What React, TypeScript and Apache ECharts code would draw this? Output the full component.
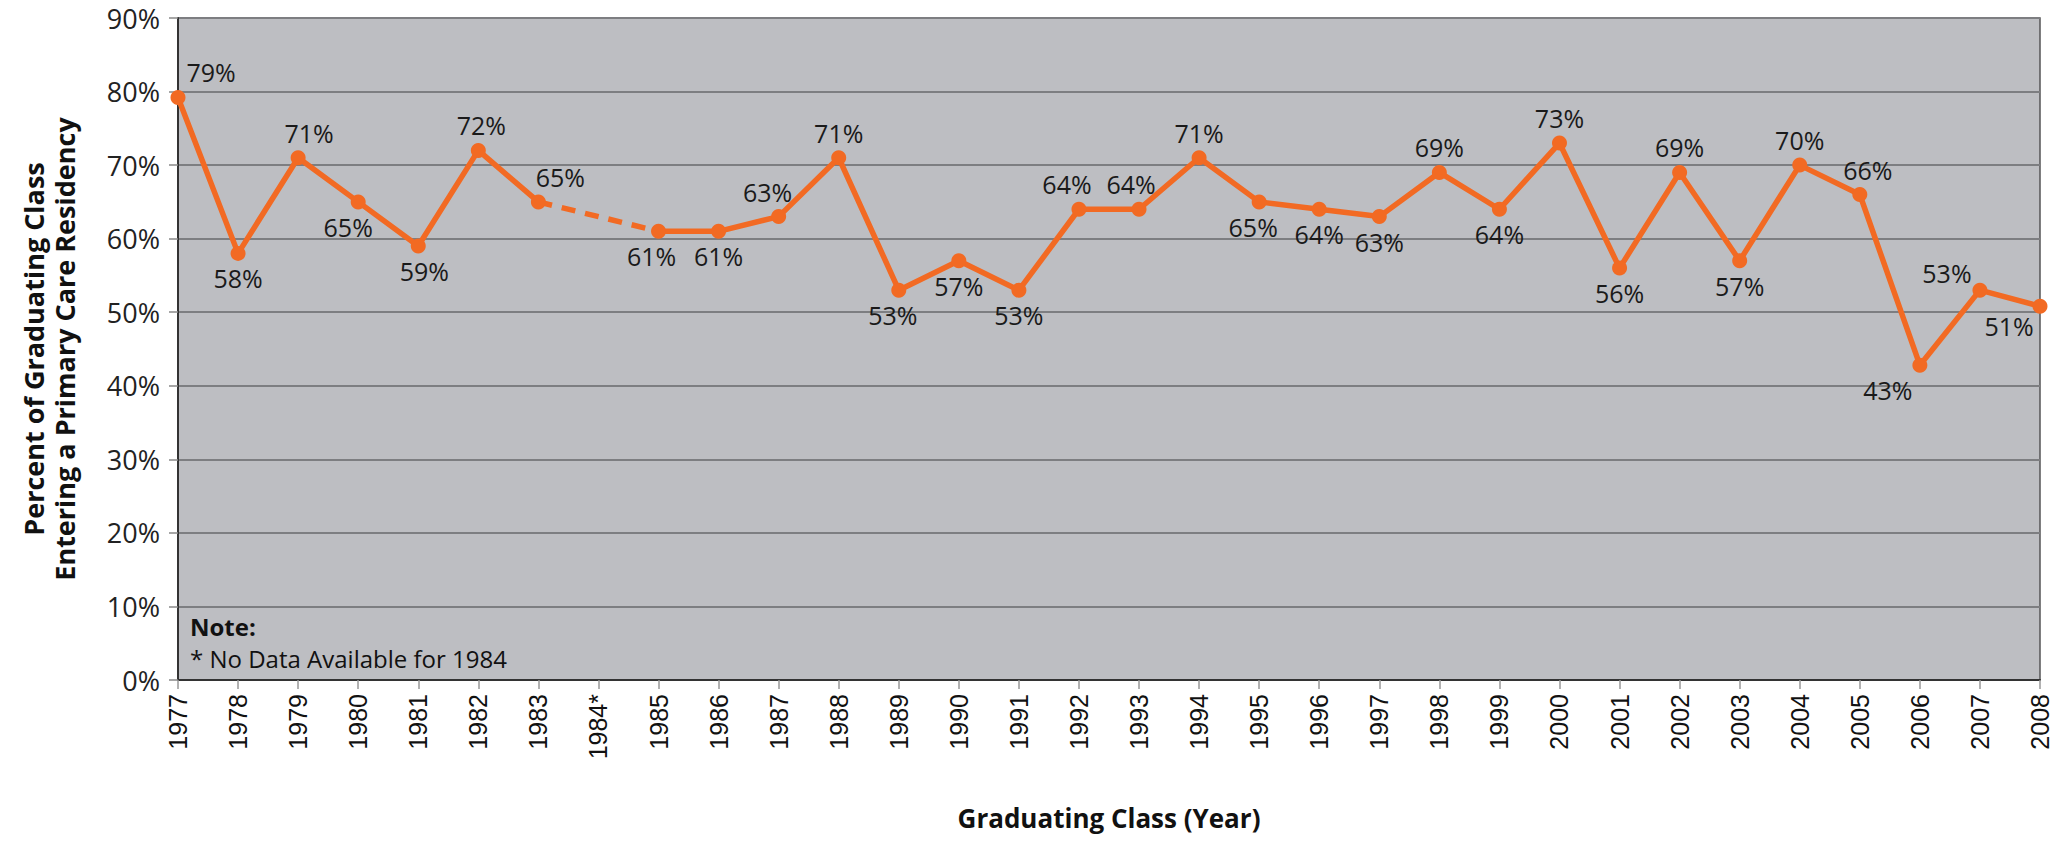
import React, { useEffect, useRef } from "react";
import * as echarts from "echarts";

const years = [
  "1977", "1978", "1979", "1980", "1981", "1982", "1983", "1984*", "1985", "1986", "1987",
  "1988", "1989", "1990", "1991", "1992", "1993", "1994", "1995", "1996", "1997", "1998",
  "1999", "2000", "2001", "2002", "2003", "2004", "2005", "2006", "2007", "2008",
];
const percents: (number | null)[] = [
  79.2, 58, 71, 65, 59, 72, 65, null, 61, 61, 63,
  71, 53, 57, 53, 64, 64, 71, 65, 64, 63, 69,
  64, 73, 56, 69, 57, 70, 66, 42.8, 53, 50.8,
];
const yTicks = [0, 10, 20, 30, 40, 50, 60, 70, 80, 90];

// label placement per point: [side, dx, dy]
const labelPlace: [string, number, number][] = [
  ["top", 33, 0], ["bottom", 0, 0], ["top", 11, 0], ["bottom", -10, 0], ["bottom", 6, 0],
  ["top", 3, 0], ["top", 22, 0], ["top", 0, 0], ["bottom", -7, 0], ["bottom", 0, 0],
  ["top", -11, 0], ["top", 0, 0], ["bottom", -6, 0], ["bottom", 0, 0], ["bottom", 0, 0],
  ["top", -12, 0], ["top", -8, 0], ["top", 0, 0], ["bottom", -6, 0], ["bottom", 0, 0],
  ["bottom", 0, 0], ["top", 0, 0], ["bottom", 0, 0], ["top", 0, 0], ["bottom", 0, 0],
  ["top", 0, 0], ["bottom", 0, 0], ["top", 0, 0], ["top", 8, 0], ["bottom", -32, 0],
  ["top", -33, 8], ["bottom", -31, -5],
];

const ORANGE = "#f26a23";
const FONT = "'Open Sans', 'Noto Sans', sans-serif";

export default function App() {
  const ref = useRef<HTMLDivElement>(null);
  useEffect(() => {
    document.body.style.margin = "0";
    if (!ref.current) return;
    const chart = echarts.init(ref.current, null, { renderer: "svg" });

    const mainData = percents.map((v, i) => {
      const [pos, dx, dy] = labelPlace[i];
      return {
        value: v,
        label: { position: pos, offset: [dx, dy] },
      };
    });

    // bridge over missing years (dashed)
    const bridge: (number | null)[] = percents.map(() => null);
    percents.forEach((v, i) => {
      if (v === null) {
        let a = i - 1;
        while (a >= 0 && percents[a] === null) a--;
        let b = i + 1;
        while (b < percents.length && percents[b] === null) b++;
        if (a >= 0) bridge[a] = percents[a];
        if (b < percents.length) bridge[b] = percents[b];
      }
    });

    chart.setOption({
      animation: false,
      backgroundColor: "#ffffff",
      textStyle: { fontFamily: FONT },
      grid: {
        left: 178,
        right: 13,
        top: 18,
        bottom: 161,
        show: true,
        containLabel: false,
        outerBoundsMode: "none",
        backgroundColor: "#bdbec2",
        borderColor: "#555557",
        borderWidth: 1.5,
      },
      xAxis: {
        type: "category",
        data: years,
        boundaryGap: false,
        name: "Graduating Class (Year)",
        nameLocation: "middle",
        nameGap: 125,
        nameMoveOverlap: false,
        nameTextStyle: { fontFamily: FONT, fontWeight: "bold", fontSize: 26, color: "#111" },
        axisLine: { lineStyle: { color: "#333", width: 2 } },
        axisTick: { show: true, length: 9, lineStyle: { color: "#999", width: 1.5 }, alignWithLabel: true },
        axisLabel: {
          rotate: 90,
          interval: 0,
          margin: 14,
          fontFamily: "'Liberation Sans', Arial, sans-serif",
          fontSize: 25,
          color: "#111",
        },
        splitLine: { show: false },
      },
      yAxis: {
        type: "value",
        min: 0,
        max: 90,
        interval: 10,
        name: "Percent of Graduating Class\nEntering a Primary Care Residency",
        nameLocation: "middle",
        nameGap: 98,
        nameMoveOverlap: false,
        nameTextStyle: { fontFamily: FONT, fontWeight: "bold", fontSize: 27, lineHeight: 31, color: "#111" },
        axisLine: { show: true, lineStyle: { color: "#333", width: 2 } },
        axisTick: { show: true, length: 9, lineStyle: { color: "#888", width: 1.5 } },
        axisLabel: {
          formatter: (v: number) => (yTicks.includes(v) ? `${v}%` : ""),
          fontFamily: FONT,
          fontSize: 27,
          color: "#222",
          margin: 18,
        },
        splitLine: { show: true, lineStyle: { color: "#7d7e81", width: 2 } },
      },
      series: [
        {
          type: "line",
          data: bridge,
          connectNulls: true,
          showSymbol: false,
          symbol: "none",
          lineStyle: { color: ORANGE, width: 5.5, type: [14, 10] },
          z: 2,
          silent: true,
        },
        {
          type: "line",
          data: mainData,
          connectNulls: false,
          symbol: "circle",
          symbolSize: 15,
          itemStyle: { color: ORANGE },
          lineStyle: { color: ORANGE, width: 5.5 },
          z: 3,
          label: {
            show: true,
            fontFamily: FONT,
            fontSize: 25,
            color: "#1a1a1a",
            distance: 5,
            formatter: (p: any) => (p.value == null ? "" : `${Math.round(p.value)}%`),
          },
        },
      ],
      graphic: [
        {
          type: "text",
          x: 190,
          y: 626,
          style: { text: "Note:", font: `bold 24px ${FONT}`, fill: "#111", verticalAlign: "middle" },
        },
        {
          type: "text",
          x: 190,
          y: 658,
          style: { text: "* No Data Available for 1984", font: `24px ${FONT}`, fill: "#111", verticalAlign: "middle" },
        },
      ],
    });
    return () => chart.dispose();
  }, []);
  return (
    <div
      ref={ref}
      style={{ position: "absolute", left: 0, top: 0, width: 2053, height: 841 }}
    />
  );
}
